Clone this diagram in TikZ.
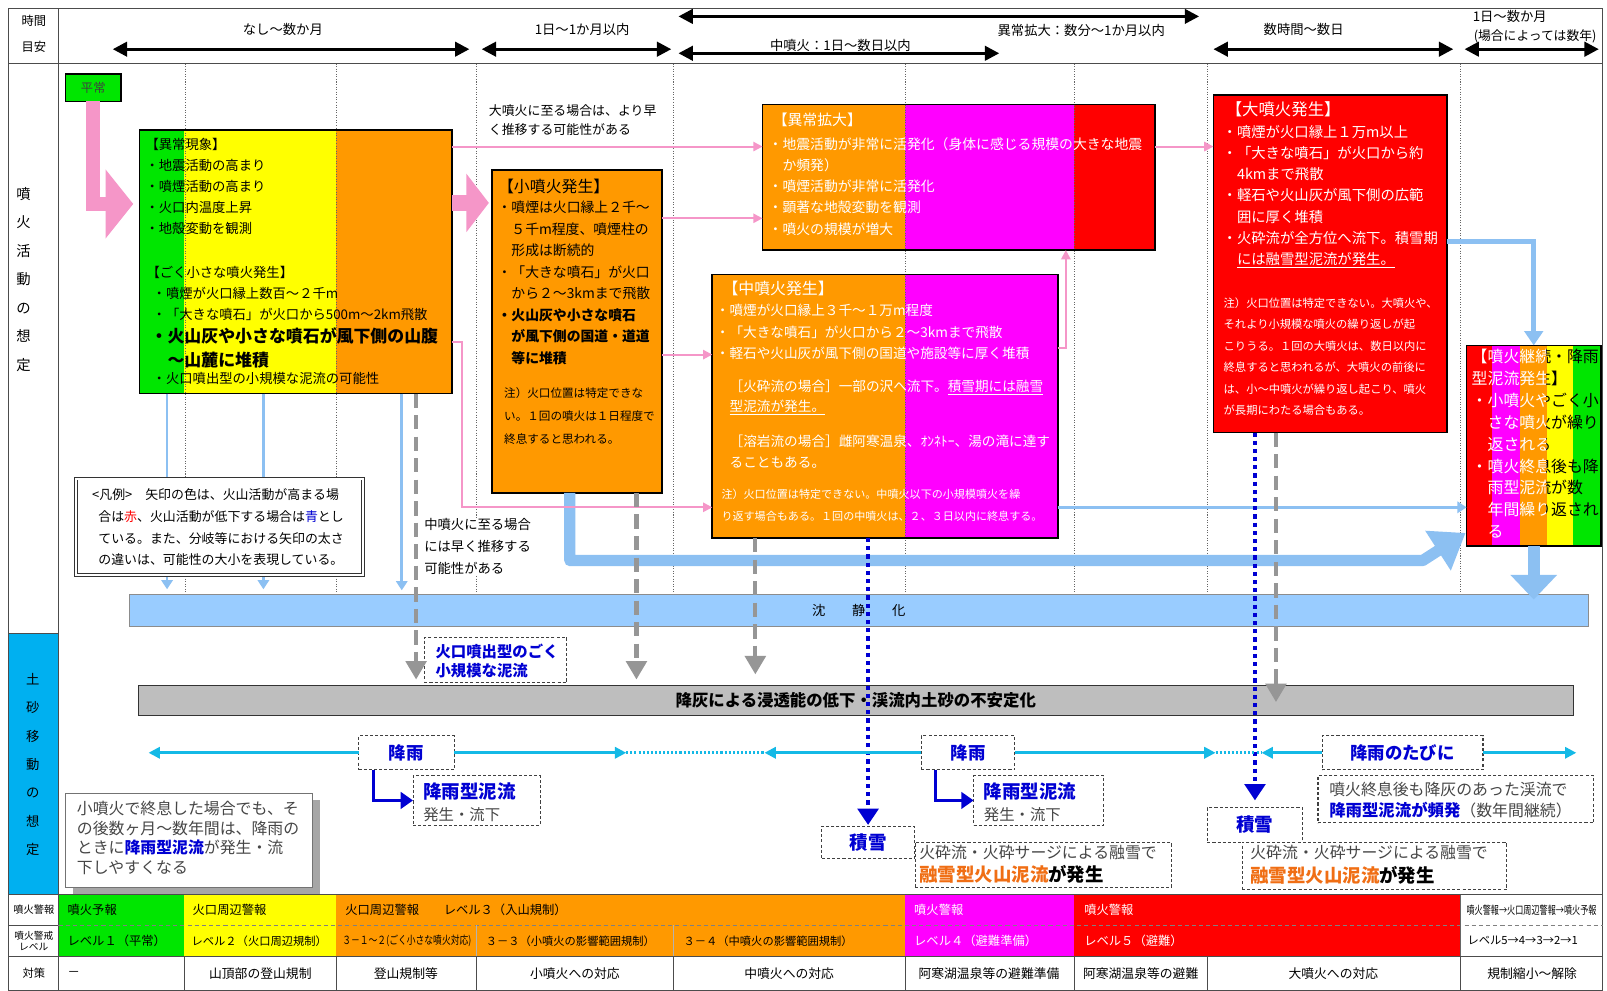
\documentclass[tikz,border=0pt]{standalone}
\usepackage{fontspec}
\setmainfont{Noto Sans CJK JP}
\usetikzlibrary{arrows.meta,fit,calc}
\definecolor{cgreen}{RGB}{0,230,0}
\definecolor{cyellow}{RGB}{255,255,0}
\definecolor{corange}{RGB}{255,153,0}
\definecolor{cmag}{RGB}{255,0,255}
\definecolor{cred}{RGB}{255,0,0}
\definecolor{clblue}{RGB}{153,204,255}
\definecolor{carrblue}{RGB}{140,192,242}
\definecolor{ccyan}{RGB}{0,176,240}
\definecolor{crain}{RGB}{20,185,230}
\definecolor{cpink}{RGB}{245,150,200}
\definecolor{cdblue}{RGB}{0,0,210}
\definecolor{cgraybar}{RGB}{190,190,190}
\definecolor{cgdash}{RGB}{150,150,150}
\definecolor{cmelt}{RGB}{240,110,20}
\definecolor{cnote}{RGB}{70,70,70}
\newcommand{\fs}[2]{\fontsize{#1}{#2}\selectfont}
\begin{document}
\begin{tikzpicture}[x=1pt,y=-1pt,
  every node/.style={inner sep=0pt,outer sep=0pt},
  box/.style={draw=black,line width=1.6pt,fit={#1}},
  dbox/.style={draw=black!75,line width=1pt,dash pattern=on 3pt off 2pt,fill=white,fit={#1}},
  txt/.style={anchor=north west,align=left},
  hdr/.style={line width=3pt,{Triangle[length=14pt,width=14pt]}-{Triangle[length=14pt,width=14pt]}},
  vline/.style={draw=black!60,line width=0.8pt,dash pattern=on 1pt off 1.5pt},
  pinkthin/.style={draw=cpink,line width=2pt,-{Triangle[length=9pt,width=9pt]}},
  bluethin/.style={draw=carrblue,line width=2.5pt,-{Triangle[length=9pt,width=11pt]}},
  gdash/.style={draw=cgdash,line width=4pt,dash pattern=on 14pt off 7pt,-{Triangle[length=18pt,width=20pt]}},
  bdot/.style={draw=cdblue,line width=4pt,dash pattern=on 4pt off 4pt,-{Triangle[length=16pt,width=20pt]}},
  rainl/.style={draw=crain,line width=2.5pt,-{Triangle[length=11pt,width=11pt]}},
  raind/.style={draw=crain,line width=2.5pt,dash pattern=on 2pt off 2pt},
  dbarrow/.style={draw=cdblue,line width=3pt,-{Triangle[length=12pt,width=16pt]}},
  blueb/.style={text=cdblue,font=\bfseries\fs{#1}{#1}},
  tcell/.style={anchor=west,font=\fs{12}{12}},
  ccell/.style={anchor=center,font=\fs{12.5}{12.5}}]
\useasboundingbox (0,0) rectangle (1568,966);
\fill[white] (0,0) rectangle (1568,966);

% ---------- helper coordinates ----------
\foreach \v in {143,198,199,213,236,334,340,346,495,547} {\coordinate (y\v) at (0,\v);}
\foreach \v in {163,257,364,392,406,556,621,737,913,1040,1245} {\coordinate (x\v) at (\v,0);}

% ---------- frame and table ----------
\fill[ccyan] (8,618) rectangle (57,873);
\fill[cgreen] (57,873) rectangle (180,933);
\fill[cyellow] (180,873) rectangle (328,933);
\fill[corange] (328,873) rectangle (883,933);
\fill[cmag] (883,873) rectangle (1048,933);
\fill[cred] (1048,873) rectangle (1425,933);
\draw[black!70,line width=1pt] (8,8) rectangle (1564,966);
\draw[black!70,line width=1pt] (57,8) -- (57,966);
\draw[black!70,line width=1pt] (8,62) -- (1564,62);
\draw[black!70,line width=1pt] (8,618) -- (57,618);
\draw[black!70,line width=1pt] (8,873) -- (1564,873);
\draw[black!70,line width=1pt] (8,933) -- (1564,933);
\draw[black!70,line width=0.8pt] (8,903) -- (57,903);
\draw[black!50,line width=0.8pt,dash pattern=on 4pt off 3pt] (57,903) -- (1564,903);
\draw[black!30,line width=0.8pt] (465,903) -- (465,933) (657,903) -- (657,933);
\draw[black!60,line width=0.8pt] (1425,873) -- (1425,933);
\foreach \x in {180,328,465,657,883,1048,1178,1425} {\draw[black!70,line width=0.8pt] (\x,933) -- (\x,966);}

% left column labels
\node (lh1) at (33,20) {\fs{12}{12}時間};
\node (lh2) at (33,46) {\fs{12}{12}目安};
\node[align=center,font=\fs{14}{27.8}] (lv1) at (23,272.5) {噴\\火\\活\\動\\の\\想\\定};
\node[align=center,font=\fs{13}{27.7}] (lv2) at (32,746) {土\\砂\\移\\動\\の\\想\\定};
\node (lt1) at (33,888) {\fs{10}{10}噴火警報};
\node[align=center,font=\fs{9.5}{11}] (lt2) at (33,918) {噴火警戒\\レベル};
\node (lt3) at (33,950) {\fs{11}{11}対策};

% table texts
\node[tcell] (r1a) at (66,888) {噴火予報};
\node[tcell] (r1b) at (188,888) {火口周辺警報};
\node[tcell] (r1c) at (337,888) {火口周辺警報　　レベル３（入山規制）};
\node[tcell,text=white] (r1d) at (892,888) {噴火警報};
\node[tcell,text=white] (r1e) at (1058,888) {噴火警報};
\node[tcell] (r1f) at (1431,888) {\scalebox{0.72}[1]{\fs{11}{11}噴火警報→火口周辺警報→噴火予報}};
\node[tcell] (r2a) at (66,918) {レベル１（平常）};
\node[tcell,font=\fs{11}{11}] (r2b) at (187,918) {レベル２（火口周辺規制）};
\node[tcell] (r2c) at (334,918) {\scalebox{0.78}[1]{\fs{11}{11}３－１～２(ごく小さな噴火対応)}};
\node[tcell,font=\fs{11}{11}] (r2d) at (474,918) {３－３（小噴火の影響範囲規制）};
\node[tcell,font=\fs{11}{11}] (r2e) at (667,918) {３－４（中噴火の影響範囲規制）};
\node[tcell,text=white] (r2f) at (892,918) {レベル４（避難準備）};
\node[tcell,text=white] (r2g) at (1058,918) {レベル５（避難）};
\node[tcell,font=\fs{11}{11}] (r2h) at (1432,918) {レベル5→4→3→2→1};
\node[tcell] (r3a) at (66,950) {－};
\node[ccell] (r3b) at (254,950) {山頂部の登山規制};
\node[ccell] (r3c) at (396,950) {登山規制等};
\node[ccell] (r3d) at (561,950) {小噴火への対応};
\node[ccell] (r3e) at (770,950) {中噴火への対応};
\node[ccell] (r3f) at (965,950) {阿寒湖温泉等の避難準備};
\node[ccell] (r3g) at (1113,950) {阿寒湖温泉等の避難};
\node[ccell] (r3h) at (1301,950) {大噴火への対応};
\node[ccell] (r3i) at (1495,950) {規制縮小～解除};

% ---------- header ----------
\coordinate (h1a) at (110,48); \coordinate (h1b) at (458,48);
\coordinate (h2a) at (470,48); \coordinate (h2b) at (655,48);
\coordinate (h3a) at (662,16); \coordinate (h3b) at (1170,16);
\coordinate (h4a) at (662,52); \coordinate (h4b) at (975,52);
\coordinate (h5a) at (1184,48); \coordinate (h5b) at (1418,48);
\coordinate (h6a) at (1429,48); \coordinate (h6b) at (1560,48);
\draw[hdr] (h1a) -- (h1b);
\draw[hdr] (h2a) -- (h2b);
\draw[hdr] (h3a) -- (h3b);
\draw[hdr] (h4a) -- (h4b);
\draw[hdr] (h5a) -- (h5b);
\draw[hdr] (h6a) -- (h6b);
\node (ht1) at (276,29) {\fs{13}{13}なし～数か月};
\node (ht2) at (568,29) {\fs{13}{13}1日～1か月以内};
\node (ht3) at (820,44) {\fs{13}{13}中噴火：1日～数日以内};
\node (ht4) at (1055,30) {\fs{13}{13}異常拡大：数分～1か月以内};
\node (ht5) at (1272,29) {\fs{13}{13}数時間～数日};
\node[anchor=west] (ht6) at (1437,16) {\fs{13}{13}1日～数か月};
\node[anchor=west] (ht7) at (1438,35) {\fs{12.5}{13}(場合によっては数年)};

% ---------- box fills ----------
\fill[cgreen] (136,127) rectangle (180,384);
\fill[cyellow] (180,127) rectangle (328,384);
\fill[corange] (328,127) rectangle (441,384);
\fill[corange] (480,166) rectangle (646,481);
\fill[corange] (744,102) rectangle (883,244);
\fill[cmag] (883,102) rectangle (1048,244);
\fill[cred] (1048,102) rectangle (1127,244);
\fill[corange] (695,268) rectangle (883,525);
\fill[cmag] (883,268) rectangle (1032,525);
\fill[cred] (1184,93) rectangle (1412,422);
\fill[cred] (1431,337) rectangle (1456,533);
\fill[cmag] (1456,337) rectangle (1483,533);
\fill[corange] (1483,337) rectangle (1509,533);
\fill[cyellow] (1509,337) rectangle (1535,533);
\fill[cgreen] (1535,337) rectangle (1562,533);

% vertical dotted time lines
\foreach \x in {180.5,328,465,657,883,1048,1178,1425} {\draw[vline] (\x,62) -- (\x,578);}

% ---------- boxes ----------
\node[box={(64,72) (118,99)},fill=cgreen] (heijo) {};
\node[text=black!75,font=\fs{12}{12}] (heijot) at (heijo.center) {平常};
\node[box={(136,127) (441,384)}] (ijo) {};
\node[box={(480,166) (646,481)}] (sho) {};
\node[box={(744,102) (1127,244)}] (kaku) {};
\node[box={(695,268) (1032,525)}] (chu) {};
\node[box={(1184,93) (1412,422)}] (dai) {};
\node[box={(1431,337) (1562,533)}] (kz) {};

% ijo text
\node[txt,font=\fs{13}{20.5}] (ijo1) at (142,134.5) {【異常現象】\\・地震活動の高まり\\・噴煙活動の高まり\\・火口内温度上昇\\・地殻変動を観測};
\node[txt,font=\fs{13}{20.5}] (ijo2) at (143,259.5) {【ごく小さな噴火発生】};
\node[txt,font=\fs{13}{20.5}] (ijo3) at (149,280.5) {・噴煙が火口縁上数百～２千m\\・「大きな噴石」が火口から500m～2km飛散};
\node[txt,font=\bfseries\fs{16.5}{23}] (ijo4) at (147,319.7) {・火山灰や小さな噴石が風下側の山腹\\　～山麓に堆積};
\node[txt,font=\fs{13}{20.5}] (ijo5) at (149,363.5) {・火口噴出型の小規模な泥流の可能性};

% sho text
\node[txt,font=\fs{15.5}{15.5}] (sho1) at (486,175) {【小噴火発生】};
\node[txt,font=\fs{13.5}{21}] (sho2) at (485.5,196) {・噴煙は火口縁上２千～\\　５千m程度、噴煙柱の\\　形成は断続的\\・「大きな噴石」が火口\\　から２～3kmまで飛散};
\node[txt,font=\bfseries\fs{13.5}{21}] (sho3) at (485.5,301) {・火山灰や小さな噴石\\　が風下側の国道・道道\\　等に堆積};
\node[txt,font=\fs{11.3}{22.5}] (sho4) at (492,378) {注）火口位置は特定できな\\い。１回の噴火は１日程度で\\終息すると思われる。};

% kaku text
\node[txt,text=white,font=\fs{14.5}{14.5}] (kaku1) at (754,110) {【異常拡大】};
\node[txt,text=white,font=\fs{13.5}{20.7}] (kaku2) at (750,134) {・地震活動が非常に活発化（身体に感じる規模の大きな地震\\　か頻発）\\・噴煙活動が非常に活発化\\・顕著な地殻変動を観測\\・噴火の規模が増大};

% chu text
\node[txt,text=white,font=\fs{15.5}{15.5}] (chu1) at (705,274) {【中噴火発生】};
\node[txt,text=white,font=\fs{13.3}{21}] (chu2) at (698.5,297) {・噴煙が火口縁上３千～１万m程度\\・「大きな噴石」が火口から２～3kmまで飛散\\・軽石や火山灰が風下側の国道や施設等に厚く堆積};
\node[txt,text=white,font=\fs{13.3}{19.5}] (chu3) at (712,371) {［火砕流の場合］一部の沢へ流下。\underline{積雪期には融雪}\\\underline{型泥流が発生。}};
\node[txt,text=white,font=\fs{13.3}{21}] (chu4) at (712,424) {［溶岩流の場合］雌阿寒温泉、ｵﾝﾈﾄｰ、湯の滝に達す\\ることもある。};
\node[txt,text=white,font=\fs{10.8}{21}] (chu5) at (704,477.6) {注）火口位置は特定できない。中噴火以下の小規模噴火を繰\\り返す場合もある。１回の中噴火は、２、３日以内に終息する。};

% dai text
\node[txt,text=white,font=\fs{16}{16}] (dai1) at (1196,99) {【大噴火発生】};
\node[txt,text=white,font=\fs{14}{20.7}] (dai2) at (1193,122) {・噴煙が火口縁上１万m以上\\・「大きな噴石」が火口から約\\　4kmまで飛散\\・軽石や火山灰が風下側の広範\\　囲に厚く堆積\\・火砕流が全方位へ流下。積雪期\\　\underline{には融雪型泥流が発生。}};
\node[txt,text=white,font=\fs{11}{21}] (dai3) at (1194,290.5) {注）火口位置は特定できない。大噴火や、\\それより小規模な噴火の繰り返しが起\\こりうる。１回の大噴火は、数日以内に\\終息すると思われるが、大噴火の前後に\\は、小～中噴火が繰り返し起こり、噴火\\が長期にわたる場合もある。};

% kz text (two-coloured)
\begin{scope}
\clip (1431,337) rectangle (1509,533);
\node[txt,text=white,font=\fs{15.5}{21.3}] (kzw) at (1436,341) {【噴火継続・降雨\\型泥流発生】\\・小噴火やごく小\\　さな噴火が繰り\\　返される\\・噴火終息後も降\\　雨型泥流が数\\　年間繰り返され\\　る};
\end{scope}
\begin{scope}
\clip (1509,337) rectangle (1562,533);
\node[txt,text=black,font=\fs{15.5}{21.3}] (kzb) at (1436,341) {【噴火継続・降雨\\型泥流発生】\\・小噴火やごく小\\　さな噴火が繰り\\　返される\\・噴火終息後も降\\　雨型泥流が数\\　年間繰り返され\\　る};
\end{scope}

% free texts
\node[txt,font=\fs{12.6}{19}] (note1) at (477,101.7) {大噴火に至る場合は、より早\\く推移する可能性がある};

% ---------- light blue arrows ----------
\node[fit={(126,580) (1550,611)},fill=clblue,draw=black!45,line width=0.8pt] (chinsei) {};
\node[font=\fs{13}{13}] (chinseit) at (chinsei.center) {沈\hspace{26pt}静\hspace{26pt}化};
\draw[bluethin,shorten >=5pt] (x163 |- ijo.south) -- (x163 |- chinsei.north);
\draw[bluethin,shorten >=5pt] (x257 |- ijo.south) -- (x257 |- chinsei.north);
\draw[bluethin,shorten >=4pt] (x392 |- ijo.south) -- (x392 |- chinsei.north);
\draw[bluethin] (chu.east |- y495) -- (kz.west |- y495);
\coordinate (tk) at (1430,520);
\draw[carrblue,line width=11pt,line join=round,-{Triangle[length=32pt,width=44pt]}] (x556 |- sho.south) |- (1388,547) -- (tk);
\draw[carrblue,line width=12pt,-{Triangle[length=24pt,width=44pt]}] (kz.south) -- ++(0,52);
\draw[carrblue,line width=5pt,-{Triangle[length=14pt,width=18pt]}] (dai.east |- y236) -| (kz.north);

% ---------- pink arrows ----------
\draw[cpink,line width=14pt,-{Triangle[length=27pt,width=66pt]},shorten >=6pt] (heijo.south) |- (ijo.west |- y199);
\draw[cpink,line width=16pt,-{Triangle[length=22pt,width=56pt]},shorten >=3pt] (ijo.east |- y198) -- (sho.west |- y198);
\draw[pinkthin] (ijo.east |- y143) -- (kaku.west |- y143);
\draw[pinkthin] (sho.east |- y213) -- (kaku.west |- y213);
\draw[pinkthin] (ijo.east |- y334) -- ++(10,0) |- (chu.west |- y495);
\draw[pinkthin] (sho.east |- y346) -- (chu.west |- y346);
\draw[pinkthin] (chu.east |- y340) -| (x1040 |- kaku.south);
\draw[pinkthin] (kaku.east |- y143) -- (dai.west |- y143);

% ---------- lower bars ----------
\node[fit={(135,669) (1535,698)},fill=cgraybar,draw=black!80,line width=1pt] (kohai) {};
\node[font=\bfseries\fs{16}{16}] (kohait) at (kohai.center) {降灰による浸透能の低下・渓流内土砂の不安定化};

% legend
\node[fit={(74,467) (354,561)},draw=black!80,double,double distance=2pt,line width=0.8pt,fill=white] (legend) {};
\node[txt,font=\fs{12.6}{21.3}] (legt) at (96,476.7) {\hspace*{-6pt}<凡例>　矢印の色は、火山活動が高まる場\\合は{\color{cred}赤}、火山活動が低下する場合は{\color{cdblue}青}とし\\ている。また、分岐等における矢印の太さ\\の違いは、可能性の大小を表現している。};
\node[txt,fill=white,font=\fs{13}{21.5}] (note2) at (414,505.5) {中噴火に至る場合\\には早く推移する\\可能性がある};

% ---------- gray dashed and blue dotted ----------
\node[dbox={(414,622) (553,666)}] (kako) {};
\node[txt,text=cdblue,font=\bfseries\fs{15}{18}] (kakot) at (425,628.5) {火口噴出型のごく\\小規模な泥流};
\node[dbox={(802,806) (892,838)}] (seki1) {};
\node[blueb=18] (seki1t) at (seki1.center) {積雪};
\node[dbox={(1178,788) (1271,822)}] (seki2) {};
\node[blueb=18] (seki2t) at (seki2.center) {積雪};
\draw[gdash,shorten >=6pt] (x406 |- ijo.south) -- (x406 |- kohai.north);
\draw[gdash,shorten >=6pt] (x621 |- sho.south) -- (x621 |- kohai.north);
\draw[gdash,shorten >=11pt] (x737 |- chu.south) -- (x737 |- kohai.north);
\draw[gdash,shorten >=13pt] (x1245 |- dai.south) -- (x1245 |- kohai.south);
\draw[bdot,shorten >=1pt] (seki1.north |- chu.south) -- (seki1.north);
\draw[bdot,shorten >=7pt] (seki2.north |- dai.south) -- (seki2.north);

% ---------- rain ----------
\node[dbox={(350,718) (443,751)}] (rain1) {};
\node[blueb=17] (rain1t) at (rain1.center) {降雨};
\node[dbox={(899,718) (990,751)}] (rain2) {};
\node[blueb=17] (rain2t) at (rain2.center) {降雨};
\node[dbox={(1290,718) (1447,751)}] (rain3) {};
\node[blueb=17] (rain3t) at (rain3.center) {降雨のたびに};
\coordinate (r1l) at (145,734.5); \coordinate (r1r) at (611,734.5);
\coordinate (r2l) at (746,734.5); \coordinate (r2r) at (1186,734.5);
\coordinate (r3l) at (1231,734.5); \coordinate (r3r) at (1538,734.5);
\draw[raind] (r1r) -- (r2l);
\draw[raind] (r2r) -- (r3l);
\draw[rainl] (rain1.west) -- (r1l);
\draw[rainl] (rain1.east) -- (r1r);
\draw[rainl] (rain2.west) -- (r2l);
\draw[rainl] (rain2.east) -- (r2r);
\draw[rainl] (rain3.west) -- (r3l);
\draw[rainl] (rain3.east) -- (r3r);

\node[dbox={(403,757) (527,805)}] (mud1) {};
\node[dbox={(950,757) (1077,805)}] (mud2) {};
\node[txt,text=cdblue,font=\bfseries\fs{18}{18}] (mud1a) at (413,764) {降雨型泥流};
\node[txt,text=cnote,font=\fs{15}{15}] (mud1b) at (413,787.5) {発生・流下};
\node[txt,text=cdblue,font=\bfseries\fs{18}{18}] (mud2a) at (960,764) {降雨型泥流};
\node[txt,text=cnote,font=\fs{15}{15}] (mud2b) at (960,787.5) {発生・流下};
\draw[dbarrow] (x364 |- rain1.south) |- (mud1.west);
\draw[dbarrow] (x913 |- rain2.south) |- (mud2.west);

\node[dbox={(893,822) (1143,866)}] (melt1) {};
\node[txt,text=cnote,font=\fs{15.5}{15.5}] (melt1a) at (897,825) {火砕流・火砕サージによる融雪で};
\node[txt,font=\bfseries\fs{18}{18}] (melt1b) at (897,844) {{\color{cmelt}融雪型火山泥流}が発生};
\node[dbox={(1212,822) (1470,868)}] (melt2) {};
\node[txt,text=cnote,font=\fs{15.5}{15.5}] (melt2a) at (1220,825) {火砕流・火砕サージによる融雪で};
\node[txt,font=\bfseries\fs{18}{18}] (melt2b) at (1220,845) {{\color{cmelt}融雪型火山泥流}が発生};

\node[dbox={(1286,757) (1555,803)}] (hinp) {};
\node[txt,text=cnote,font=\fs{15.5}{15.5}] (hinpa) at (1297,763) {噴火終息後も降灰のあった渓流で};
\node[txt,text=cnote,font=\fs{15.5}{15.5}] (hinpb) at (1297,783) {{\bfseries\fs{16}{16}\color{cdblue}降雨型泥流が頻発}（数年間継続）};

% lower-left note
\fill[black!35] (71,781) rectangle (312,872);
\node[fit={(64,774) (305,866)},draw=black!55,fill=white,line width=0.8pt] (lnote) {};
\node[txt,text=cnote,font=\fs{15.5}{19}] (lnotet) at (75,782) {小噴火で終息した場合でも、そ\\の後数ヶ月～数年間は、降雨の\\ときに{\bfseries\color{cdblue}降雨型泥流}が発生・流\\下しやすくなる};
\end{tikzpicture}
\end{document}
